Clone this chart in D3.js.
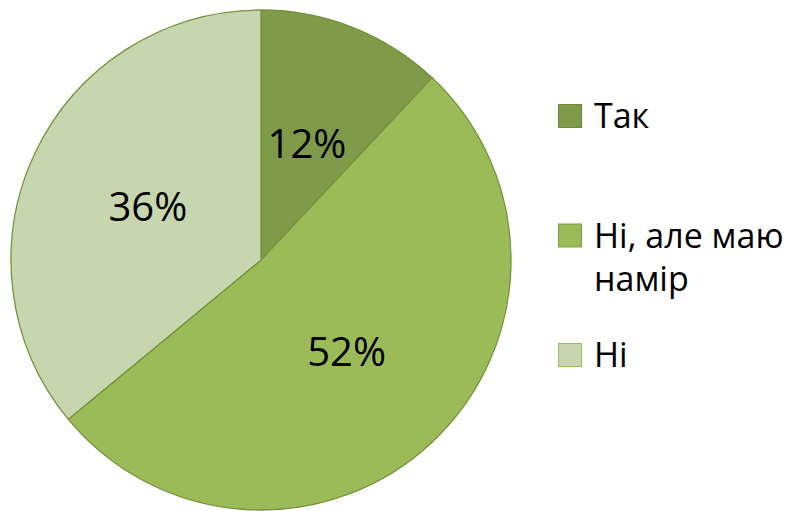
<!DOCTYPE html>
<html>
<head>
<meta charset="utf-8">
<script src="https://cdn.jsdelivr.net/npm/d3@7"></script>
<style>
    body { margin: 0; background: #fff; }
    text { font-family: "Open Sans", "Noto Sans", sans-serif; fill: #000; }
</style>
</head>
<body>
<svg id="drawing_region"></svg>
<script>
const categories = ["Так", "Ні, але маю намір", "Ні"];
const values = [12, 52, 36];
const colors = ["#7f9a48", "#9bbb59", "#c7d6ae"];
const borders = ["#6e8a3a", "#7f9a48", "#9bbb59"];

const width = 806, height = 511;
const cx = 261, cy = 260, radius = 250;

const data = categories.map((c, i) => ({ label: c, value: values[i] }));

const svg = d3.select('#drawing_region')
    .attr('width', width)
    .attr('height', height);

const chart = svg.append('g')
    .attr('transform', `translate(${cx}, ${cy})`);

const pie = d3.pie().sort(null).value(d => d.value);
const arc = d3.arc().innerRadius(0).outerRadius(radius);
const labelArc = d3.arc().innerRadius(radius * 0.5).outerRadius(radius * 0.5);
const color = d3.scaleOrdinal().domain(categories).range(colors);
const border = d3.scaleOrdinal().domain(categories).range(borders);

const arcs = pie(data);

chart.selectAll('path').data(arcs)
    .join('path')
    .attr('d', arc)
    .attr('fill', d => color(d.data.label))
    .attr('stroke', '#77933c')
    .attr('stroke-width', 1.3)
    .attr('stroke-linejoin', 'round');

chart.selectAll('text.pct').data(arcs)
    .join('text')
    .attr('class', 'pct')
    .attr('transform', d => `translate(${labelArc.centroid(d)})`)
    .attr('text-anchor', 'middle')
    .attr('dy', '0.36em')
    .attr('font-size', 40)
    .text(d => d3.format('.0%')(d.data.value / d3.sum(values)));

// legend
const legendY = d3.scalePoint()
    .domain(categories)
    .range([104, 343]);
const boxSize = 24;
const legend = svg.append('g').attr('transform', 'translate(558, 0)');

const items = legend.selectAll('g').data(categories)
    .join('g')
    .attr('transform', d => `translate(0, ${legendY(d)})`);

items.append('rect')
    .attr('x', 0.5)
    .attr('y', 0.5)
    .attr('width', boxSize - 1)
    .attr('height', boxSize - 1)
    .attr('fill', d => color(d))
    .attr('stroke', d => border(d))
    .attr('stroke-width', 1);

const maxTextWidth = width - 594 - 6;
items.append('text')
    .attr('x', 36)
    .attr('y', boxSize)
    .attr('font-size', 34)
    .each(function (d) {
        const text = d3.select(this);
        const words = d.split(' ');
        let line = [];
        let lineNo = 0;
        let tspan = text.append('tspan').attr('x', 36).attr('dy', 0);
        words.forEach(w => {
            line.push(w);
            tspan.text(line.join(' '));
            if (tspan.node().getComputedTextLength() > maxTextWidth && line.length > 1) {
                line.pop();
                tspan.text(line.join(' '));
                line = [w];
                lineNo++;
                tspan = text.append('tspan').attr('x', 36).attr('dy', 43).text(w);
            }
        });
    });
</script>
</body>
</html>
